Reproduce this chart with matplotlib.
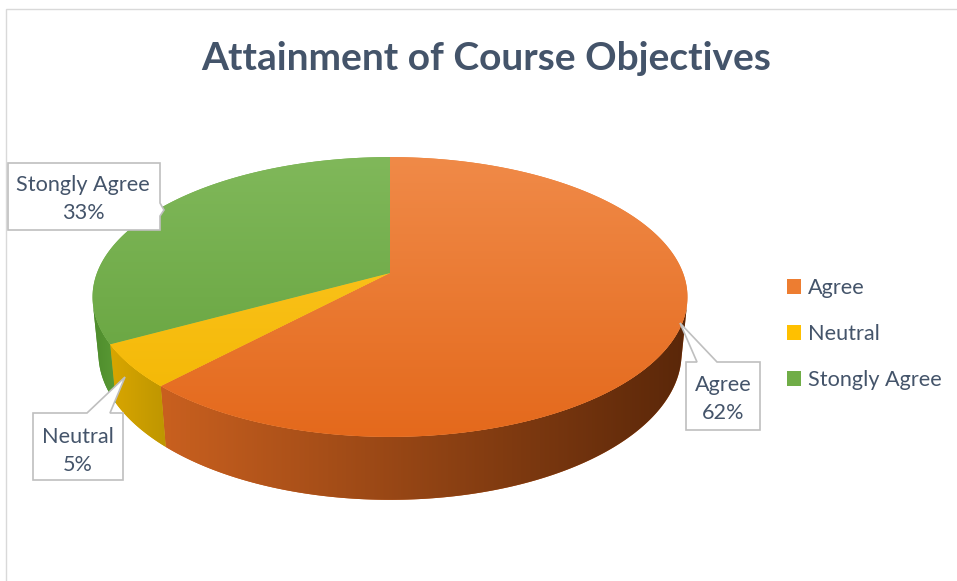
import numpy as np
import matplotlib
matplotlib.use('Agg')
import matplotlib.pyplot as plt
from matplotlib.patches import Polygon, Rectangle, Patch
from matplotlib.colors import LinearSegmentedColormap

# ---------------- data ----------------
categories = ['Agree', 'Neutral', 'Stongly Agree']
values = [62, 5, 33]
label_texts = ['Agree\n62%', 'Neutral\n5%', 'Stongly Agree\n33%']
title = 'Attainment of Course Objectives'

# ---------------- styles ----------------
base_colors = ['#ED7D31', '#FFC000', '#70AD47']
top_light = ['#F08A48', '#FFC82A', '#80B85A']
top_dark = ['#E4691C', '#F2B600', '#62A03A']
side_left = ['#C9601F', '#D9A600', '#4E8C2C']
side_right = ['#5A2709', '#BE9600', '#5A9A35']
TXT = '#44546A'
FONT = 'Lato'

W, H = 957, 581
fig = plt.figure(figsize=(W / 100, H / 100), dpi=100)
fig.patch.set_facecolor('white')


def P(x, y):
    return (x / W, 1 - y / H)


# ---------- perspective camera for the 3-D pie ----------
CX, CY = 390, 273              # pixel position of pie centre
FOC, DIST = 1515.0, 5.17       # focal length (px) and camera distance (radii)
ELEV = np.radians(27.6)        # elevation of the view
DEPTH = 0.218                  # thickness of the pie (radii)
sE, cE = np.sin(ELEV), np.cos(ELEV)


def proj(X, Y, Z):
    w = DIST + Y * cE - Z * sE
    u = Y * sE + Z * cE
    return FOC * X / w, FOC * u / w


ax = fig.add_axes([0, 0, 1, 1])
ax.set_axis_off()

fractions = np.array(values, dtype=float) / sum(values)
ends = 90 - 360 * np.cumsum(fractions)
starts = np.concatenate([[90], ends[:-1]])

# side wall visible where the outward normal faces the camera
th0 = np.degrees(np.arcsin(1.0 / (DIST * cE)))

# ---------- side walls ----------
for i in range(len(values)):
    a, b = ends[i], starts[i]
    for k in (-720, -360, 0, 360):
        lo, hi = max(a, 180 + th0 + k), min(b, 360 - th0 + k)
        if hi <= lo:
            continue
        t = np.radians(np.linspace(lo, hi, 200))
        xt, yt = proj(np.cos(t), np.sin(t), 0.0)
        xb, yb = proj(np.cos(t), np.sin(t), -DEPTH)
        verts = np.concatenate([np.column_stack([xt, yt]),
                                np.column_stack([xb[::-1], yb[::-1]])])
        poly = Polygon(verts, closed=True, facecolor=side_left[i], lw=0,
                       zorder=1)
        ax.add_patch(poly)
        cmap = LinearSegmentedColormap.from_list('s', [side_left[i], side_right[i]])
        grad = np.linspace(0, 1, 256)[None, :]
        allx = np.concatenate([xt, xb]); ally = np.concatenate([yt, yb])
        im = ax.imshow(grad, cmap=cmap, aspect='auto', interpolation='bicubic',
                       extent=[allx.min(), allx.max(), ally.min(), ally.max()],
                       zorder=1.5)
        im.set_clip_path(poly)

# ---------- top faces ----------
for i in range(len(values)):
    t = np.radians(np.linspace(starts[i], ends[i], 400))
    xa, ya = proj(np.cos(t), np.sin(t), 0.0)
    verts = np.concatenate([[[0.0, 0.0]], np.column_stack([xa, ya])])
    poly = Polygon(verts, closed=True, facecolor=base_colors[i], lw=0, zorder=2)
    ax.add_patch(poly)
    cmap = LinearSegmentedColormap.from_list('t', [top_dark[i], top_light[i]])
    grad = np.linspace(0, 1, 256)[:, None]
    x1, y1 = proj(np.array([-1.0, 1.0]), np.array([-1.0, 1.0]), 0.0)
    im = ax.imshow(grad, cmap=cmap, aspect='auto', origin='lower',
                   extent=[-320, 320, y1[0], y1[1]], zorder=2.5,
                   interpolation='bicubic')
    im.set_clip_path(poly)

ax.set_xlim(-CX, W - CX)
ax.set_ylim(CY - H, CY)

# ---------- chart border ----------
fig.patches.append(Rectangle(P(6, H + 5), (W + 5 - 6) / W, (H + 5 - 9) / H,
                             transform=fig.transFigure, fill=False,
                             edgecolor='#D9D9D9', lw=1.0, zorder=0))

# ---------- title ----------
fig.text(*P(486, 58), title, ha='center', va='center',
         fontsize=28, fontweight='bold', color=TXT, family=FONT)

# ---------- callouts ----------
callouts = [
    # Agree
    ([(686, 362), (697, 362), (680, 323), (717, 362), (760, 362), (760, 430), (686, 430)],
     (723, 399)),
    # Neutral
    ([(33, 413), (87, 413), (125, 377), (110, 413), (123, 413), (123, 480), (33, 480)],
     (78, 451)),
    # Stongly Agree
    ([(8, 163), (160, 163), (160, 203), (164, 210), (160, 216), (160, 230), (8, 230)],
     (83, 199)),
]
for (verts, tpos), txt in zip(callouts, label_texts):
    fig.patches.append(Polygon([P(*v) for v in verts], closed=True,
                               transform=fig.transFigure, facecolor='white',
                               edgecolor='#BFBFBF', lw=1.2, zorder=5))
    fig.text(*P(*tpos), txt, ha='center', va='center', fontsize=15.6,
             color=TXT, family=FONT, linespacing=1.5, zorder=6)

# ---------- legend ----------
handles = [Patch(facecolor=c, edgecolor='none') for c in base_colors]
leg = fig.legend(handles, categories, loc='center left',
                 bbox_to_anchor=P(787, 334), frameon=False, fontsize=15.6,
                 handlelength=0.65, handleheight=0.65, handletextpad=0.3,
                 labelspacing=1.2, borderaxespad=0, borderpad=0)
for t in leg.get_texts():
    t.set_color(TXT)
    t.set_family(FONT)

fig.savefig('out.png', dpi=100, facecolor='white')
